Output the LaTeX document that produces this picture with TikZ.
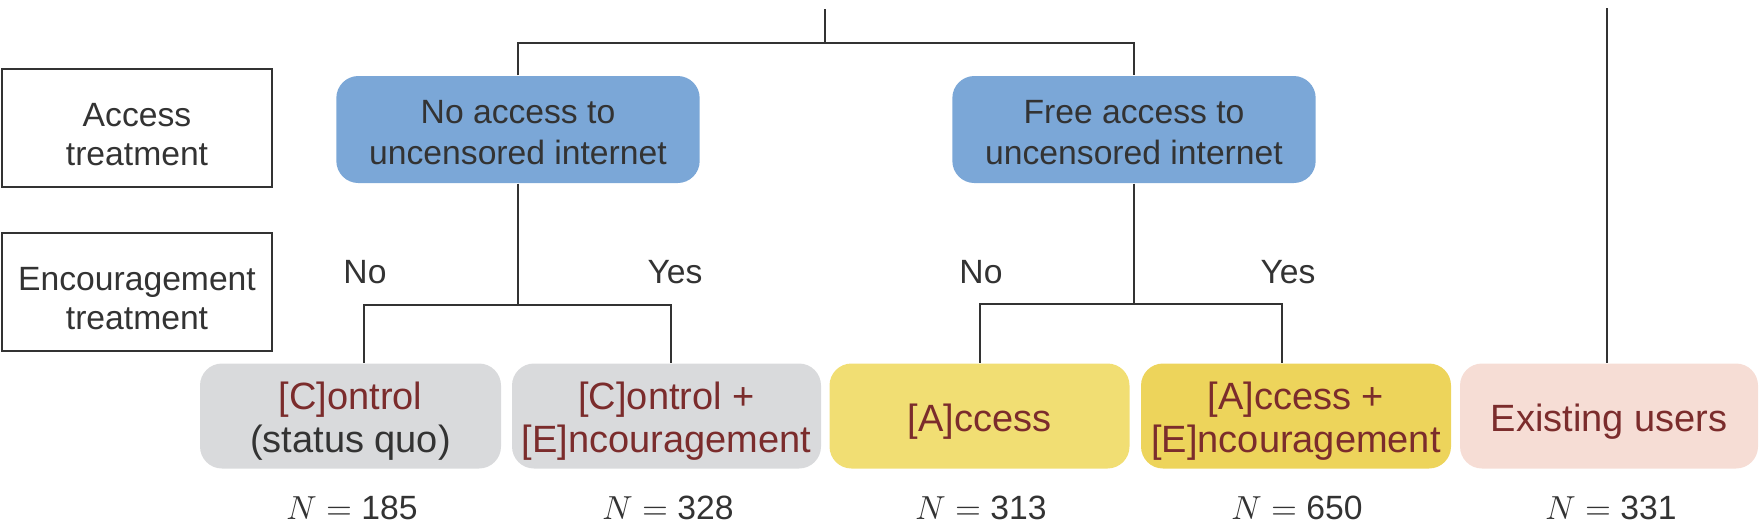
\documentclass[tikz,border=0pt]{standalone}
\usepackage{fontspec}
\setmainfont{Liberation Sans}
\definecolor{txtgray}{HTML}{333333}
\definecolor{armred}{HTML}{7B2C2C}
\definecolor{accblue}{HTML}{7BA7D7}
\definecolor{ctrlgray}{HTML}{D9DADC}
\definecolor{accyellow}{HTML}{F1DE73}
\definecolor{encyellow}{HTML}{EDD45B}
\definecolor{userpink}{HTML}{F6DDD5}
\newcommand{\lift}[1]{\rule{0pt}{#1}}

\begin{document}
\begin{tikzpicture}[
  x=0.3pt, y=-0.3pt,
  rowlbl/.style={draw=txtgray, line width=0.8pt, text=txtgray, align=center,
    minimum width=81pt, minimum height=35.4pt, inner sep=0pt,
    font=\fontsize{10.1}{11.7}\selectfont},
  accbox/.style={fill=accblue, rounded corners=6.6pt, text=txtgray, align=center,
    minimum width=109pt, minimum height=32.1pt, inner sep=0pt,
    font=\fontsize{10.1}{12.3}\selectfont},
  armbox/.style={rounded corners=6.6pt, text=armred, align=center,
    minimum height=31.5pt, inner sep=0pt,
    font=\fontsize{11.4}{12.9}\selectfont},
  branch/.style={draw=txtgray, line width=0.6pt},
  yn/.style={text=txtgray, font=\fontsize{10.1}{12}\selectfont},
  cnt/.style={anchor=base, inner sep=0pt, text=txtgray, font=\fontsize{10.1}{12}\selectfont}
]
  \useasboundingbox (0,0) rectangle (1760,522);

  % row labels
  \node[rowlbl] (lacc) at (137,128) {\lift{1.07em}Access\\treatment};
  \node[rowlbl] (lenc) at (137,292) {\lift{1.07em}Encouragement\\treatment};

  % access treatment
  \node[accbox] (acc1) at (518,129.5) {\lift{0.9em}No access to\\uncensored internet};
  \node[accbox] (acc2) at (1134,129.5) {\lift{0.9em}Free access to\\uncensored internet};

  % arms
  \node[armbox, fill=ctrlgray, minimum width=90.3pt] (ctrl) at (350.5,416)
    {\lift{1em}[C]ontrol\\\textcolor{txtgray}{(status quo)}};
  \node[armbox, fill=ctrlgray, minimum width=92.7pt] (ctrlenc) at (666.5,416)
    {\lift{1em}[C]ontrol +\\{}[E]ncouragement};
  \node[armbox, fill=accyellow, minimum width=90pt] (access) at (979.5,416)
    {\lift{1em}[A]ccess};
  \node[armbox, fill=encyellow, minimum width=93pt] (accenc) at (1296,416)
    {\lift{1em}[A]ccess +\\{}[E]ncouragement};
  \node[armbox, fill=userpink, minimum width=89.4pt] (exist) at (1609,416)
    {\lift{1em}Existing users};

  % tree
  \coordinate (root) at (825,9);
  \coordinate (bar) at (825,43);
  \coordinate (c1) at (364,305);
  \coordinate (c2) at (671,305);
  \coordinate (a1) at (980,304);
  \coordinate (a2) at (1282,304);
  \coordinate (uroot) at (1607,8);

  \draw[branch] (root) -- (bar);
  \draw[branch] (acc1.north) -- (acc1.north |- bar) -- (acc2.north |- bar) -- (acc2.north);
  \draw[branch] (acc1.south) -- (acc1.south |- c1);
  \draw[branch] (ctrl.north -| c1) -- (c1) -- (c2) -- (ctrlenc.north -| c2);
  \draw[branch] (acc2.south) -- (acc2.south |- a1);
  \draw[branch] (access.north -| a1) -- (a1) -- (a2) -- (accenc.north -| a2);
  \draw[branch] (uroot) -- (exist.north -| uroot);

  % encouragement branches
  \node[yn] (no1) at (365,272) {No};
  \node[yn] (yes1) at (675,272) {Yes};
  \node[yn] (no2) at (981,272) {No};
  \node[yn] (yes2) at (1288,272) {Yes};

  % sample sizes
  \node[cnt] (n1) at (352,519) {$N =$ 185};
  \node[cnt] (n2) at (668,519) {$N =$ 328};
  \node[cnt] (n3) at (981,519) {$N =$ 313};
  \node[cnt] (n4) at (1297,519) {$N =$ 650};
  \node[cnt] (n5) at (1611,519) {$N =$ 331};
\end{tikzpicture}
\end{document}
